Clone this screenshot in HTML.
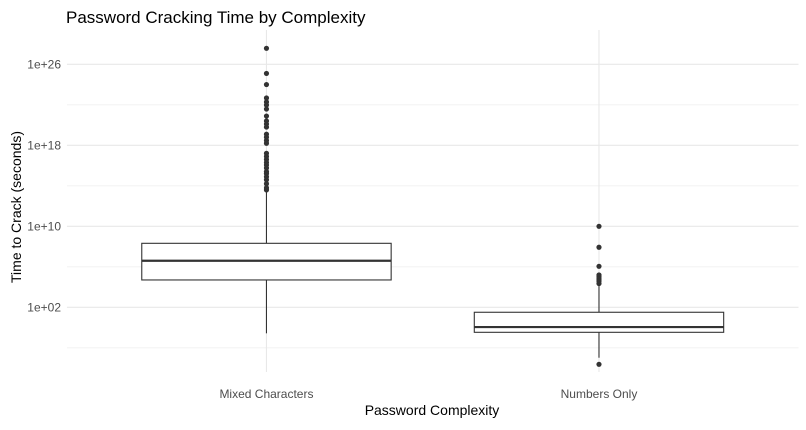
<!DOCTYPE html>
<html><head><meta charset="utf-8"><style>
body{margin:0;background:#fff}
svg text{font-family:"Liberation Sans",Arial,sans-serif}
</style></head><body>
<svg id="chart" width="806" height="425" xmlns="http://www.w3.org/2000/svg">
<g id="grid"></g>
<g id="marks"></g>
<g id="axes"></g>
<text x="66" y="23" font-size="17" fill="#000">Password Cracking Time by Complexity</text>
<text x="432" y="415" font-size="14" text-anchor="middle" fill="#000">Password Complexity</text>
<text transform="translate(21,207) rotate(-90)" font-size="14" text-anchor="middle" fill="#000">Time to Crack (seconds)</text>
</svg>
<script>
const categories = ["Mixed Characters", "Numbers Only"];
// log10 values
const lowerWhisker = [-0.57, -2.98];
const q1 = [4.70, -0.47];
const median = [6.60, 0.05];
const q3 = [8.32, 1.51];
const upperWhisker = [13.42, 4.1];
const outliersMixed = [27.58,25.1,24.0,22.67,22.28,21.98,21.58,20.89,20.4,20.1,19.8,19.09,18.8,18.48,18.2,17.2,16.9,16.6,16.3,16.05,15.76,15.4,15.2,14.9,14.6,14.2,13.8,13.6];
const outliersNumbers = [10.0,7.93,6.05,5.19,5.0,4.8,4.6,4.35,-3.63];
const majorTicks = [2, 10, 18, 26];
const tickLabels = ["1e+02","1e+10","1e+18","1e+26"];
const minorTicks = [-2, 6, 14, 22];

const NS="http://www.w3.org/2000/svg";
const panelL=66.95, panelR=798.5, panelT=30, panelB=372;
const step=(panelR-panelL)/2.2;
function xPos(i){return panelL+(i+0.6)*step;}
function yPos(e){return 307.3-(e-2)*10.125;}
function mk(tag,attrs,parent){const el=document.createElementNS(NS,tag);for(const k in attrs)el.setAttribute(k,attrs[k]);parent.appendChild(el);return el;}
const grid=document.getElementById('grid'),marks=document.getElementById('marks'),axes=document.getElementById('axes');
minorTicks.forEach(e=>{const l=mk('line',{x1:panelL,x2:panelR,y1:yPos(e),y2:yPos(e),stroke:'#f0f0f0','stroke-width':0.8},grid);

});
majorTicks.forEach((e,i)=>{const l=mk('line',{x1:panelL,x2:panelR,y1:yPos(e),y2:yPos(e),stroke:'#e8e8e8','stroke-width':1.1},grid);


const t=mk('text',{x:61,y:yPos(e)+4,'font-size':12,'text-anchor':'end',fill:'#4d4d4d'},axes);t.textContent=tickLabels[i];

});
categories.forEach((c,i)=>{const x=xPos(i);
const l=mk('line',{x1:x,x2:x,y1:panelT,y2:panelB,stroke:'#e8e8e8','stroke-width':1.1},grid);


const t=mk('text',{x:x,y:398,'font-size':12,'text-anchor':'middle',fill:'#4d4d4d'},axes);t.textContent=c;


const g=mk('g',{},marks);


const hw=step*0.375;
mk('line',{x1:x,x2:x,y1:yPos(upperWhisker[i]),y2:yPos(q3[i]),stroke:'#333','stroke-width':1.1},g);
mk('line',{x1:x,x2:x,y1:yPos(q1[i]),y2:yPos(lowerWhisker[i]),stroke:'#333','stroke-width':1.1},g);
mk('rect',{x:x-hw,y:yPos(q3[i]),width:hw*2,height:yPos(q1[i])-yPos(q3[i]),fill:'#fff',stroke:'#333','stroke-width':1.1},g);
mk('line',{x1:x-hw,x2:x+hw,y1:yPos(median[i]),y2:yPos(median[i]),stroke:'#333','stroke-width':2.2},g);
const outs=i===0?outliersMixed:outliersNumbers;
outs.forEach(o=>{const p=mk('circle',{cx:x,cy:yPos(o),r:2.6,fill:'#333'},g);

});
});
</script>
</body></html>
